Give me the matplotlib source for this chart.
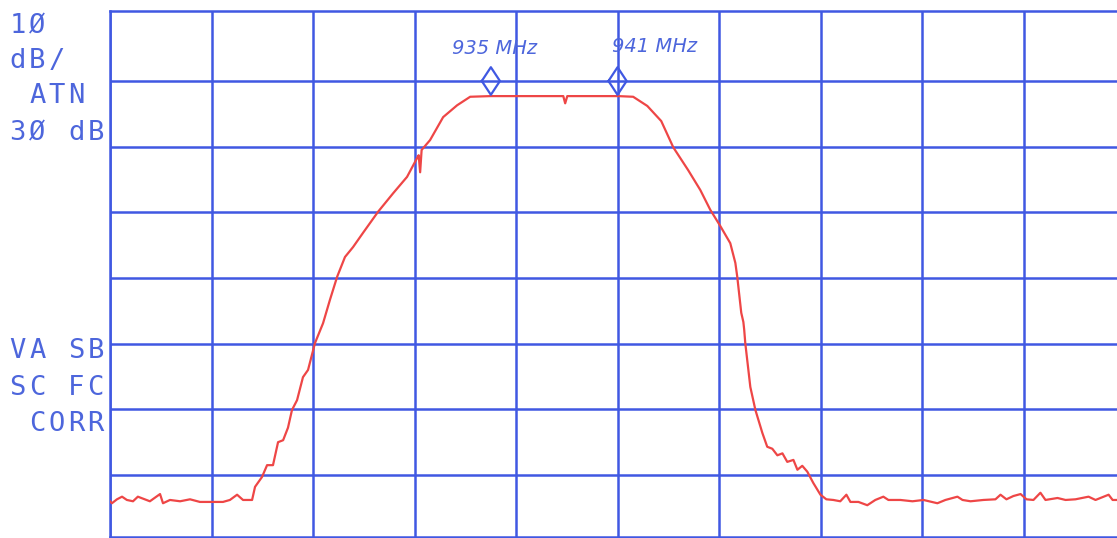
import matplotlib.pyplot as plt
import numpy as np

# Шумовая полка слева (МГц, дБ)
f_left = [916.96, 917.05, 917.29, 917.53, 917.76, 918.05, 918.28, 918.85, 919.33, 919.47,
          919.80, 920.28, 920.75, 921.22, 921.84, 922.31, 922.64, 922.98, 923.26, 923.69]
lvl_left = [-74.0, -74.3, -73.7, -73.3, -73.8, -74.0, -73.3, -74.0, -72.9, -74.3,
            -73.8, -74.0, -73.7, -74.1, -74.1, -74.1, -73.8, -73.0, -73.8, -73.8]

# АЧХ фильтра: подъём, полка, спад
f_band = [923.83, 924.16, 924.40, 924.68, 924.92, 925.16, 925.39, 925.58, 925.82, 926.10,
          926.34, 926.67, 927.05, 927.38, 927.72, 928.09, 928.47, 928.95, 929.66, 930.37,
          931.03, 931.51, 931.58, 931.65, 931.72, 932.12, 932.74, 933.40, 934.02, 934.97,
          937.34, 938.43, 938.52, 938.62, 941.03, 941.74, 942.41, 943.07, 943.64, 944.35,
          944.92, 945.39, 945.87, 946.34, 946.58, 946.67, 946.86, 946.96, 947.00, 947.05,
          947.29, 947.53, 947.86, 948.09, 948.33, 948.57, 948.81, 949.04, 949.33, 949.52,
          949.75, 949.99, 950.27, 950.61, 950.89, 951.22, 951.55, 951.84, 952.03]
lvl_band = [-71.8, -70.3, -68.5, -68.5, -65.0, -64.7, -62.8, -60.1, -58.6, -55.1,
            -54.0, -49.9, -46.9, -43.3, -39.8, -36.8, -35.3, -33.1, -29.9, -27.1,
            -24.6, -21.7, -21.3, -23.9, -20.5, -19.0, -15.5, -13.7, -12.4, -12.3,
            -12.3, -12.3, -13.4, -12.3, -12.3, -12.4, -13.8, -16.1, -20.1, -23.6,
            -26.6, -29.6, -32.1, -34.7, -37.7, -39.8, -45.3, -46.7, -47.9, -49.9,
            -56.6, -60.1, -63.6, -65.7, -66.0, -67.0, -66.7, -68.0, -67.7, -69.2,
            -68.6, -69.5, -71.2, -73.0, -73.7, -73.8, -74.0, -73.0, -74.1]

# Шумовая полка справа
f_right = [952.41, 952.83, 953.21, 953.59, 953.83, 954.40, 954.97, 955.49, 956.15, 956.53,
           957.10, 957.34, 957.72, 958.33, 958.90, 959.14, 959.42, 959.75, 960.09, 960.37,
           960.70, 961.03, 961.27, 961.84, 962.22, 962.69, 963.31, 963.64, 964.26, 964.45,
           964.68]
lvl_right = [-74.1, -74.6, -73.8, -73.3, -73.8, -73.8, -74.0, -73.8, -74.3, -73.8,
             -73.3, -73.8, -74.0, -73.8, -73.7, -73.0, -73.7, -73.2, -72.9, -73.7,
             -73.8, -72.7, -73.8, -73.5, -73.8, -73.7, -73.3, -73.8, -73.0, -73.8,
             -73.8]

# Маркеры
marker_freqs = [935, 941]
marker_labels = ['935 MHz', '941 MHz']
marker_level = -10

# Надписи прибора слева
side_lines = ['1Ø', 'dB/', ' ATN', '3Ø dB', 'VA SB', 'SC FC', ' CORR']
side_baselines = [33, 68, 103, 140, 358, 395, 431]

grid_c = '#4058e2'
text_c = '#4d66dc'
trace_c = '#ee4646'

W, H = 1117, 538
fig = plt.figure(figsize=(W / 100, H / 100), dpi=100)
fig.patch.set_facecolor('white')

ax = fig.add_axes([110 / W, 1 / H, 1015.5 / W, 526 / H])
x0, x1 = 916.96, 965.06
ax.set_xlim(x0, x1)
ax.set_ylim(-79.44, 0.66)

# Сетка экрана: 10 делений по горизонтали, 10 дБ по вертикали
ax.set_xticks(np.linspace(x0, x1, 11))
ax.set_yticks(np.arange(-70, 0, 10))
ax.grid(True, color=grid_c, linewidth=1.8)
ax.tick_params(length=0, labelbottom=False, labelleft=False)
for s in ax.spines.values():
    s.set_color(grid_c)
    s.set_linewidth(1.8)

# Трасса
f_all = f_left + f_band + f_right
lvl_all = lvl_left + lvl_band + lvl_right
ax.plot(f_all, lvl_all, color=trace_c, linewidth=1.6, zorder=3)

# Ромбы маркеров и рукописные подписи
dx, dy = 0.43, 2.1
for f in marker_freqs:
    ax.plot([f - dx, f, f + dx, f, f - dx],
            [marker_level, marker_level + dy, marker_level, marker_level - dy, marker_level],
            color=grid_c, linewidth=1.6, zorder=4)
ax.text(935.16, -5.1, marker_labels[0], color=text_c, fontsize=14, style='italic',
        ha='center', va='center')
ax.text(942.74, -4.7, marker_labels[1], color=text_c, fontsize=14, style='italic',
        ha='center', va='center')

# Моноширинные надписи: каждый символ в своей ячейке
pitch = 19.5
for line, yb in zip(side_lines, side_baselines):
    for i, ch in enumerate(line):
        if ch == ' ':
            continue
        xc = 8 + pitch * i + pitch / 2
        fig.text(xc / W, 1 - yb / H, ch, color=text_c, fontsize=19.5,
                 family='DejaVu Sans Mono', ha='center', va='baseline')

fig.savefig('out.png', dpi=100, facecolor='white')
